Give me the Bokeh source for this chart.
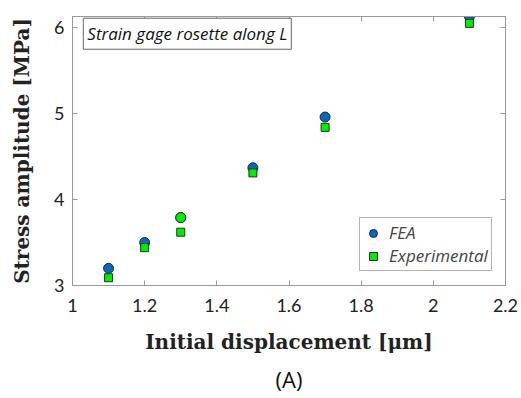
from bokeh.plotting import figure
from bokeh.models import LinearAxis, Label, Legend, LegendItem, Range1d, FixedTicker, Title
from bokeh.embed import file_html
from bokeh.resources import INLINE

disp = [1.1, 1.2, 1.3, 1.5, 1.7, 2.1]
fea = [3.20, 3.50, 3.79, 4.37, 4.96, 6.13]
exp_vals = [3.09, 3.44, 3.62, 4.31, 4.84, 6.05]
# extra experimental circle drawn at 1.3 (appears green over FEA)
extra_x = [1.3]
extra_y = [3.79]
x_ticks = [1, 1.2, 1.4, 1.6, 1.8, 2, 2.2]
y_ticks = [3, 4, 5, 6]

p = figure(width=521, height=398, output_backend="svg", toolbar_location=None,
           x_range=Range1d(1, 2.2), y_range=Range1d(3, 6.13),
           min_border_left=72, min_border_right=16, min_border_top=16, min_border_bottom=60)
p.grid.visible = False
p.outline_line_color = "#999999"
p.background_fill_color = "white"
p.border_fill_color = "white"

TICK_FONT = "Lato"
for ax in (p.xaxis[0], p.yaxis[0]):
    ax.axis_line_color = "#999999"
    ax.major_tick_line_color = "#999999"
    ax.major_tick_in = 5
    ax.major_tick_out = 0
    ax.minor_tick_line_color = None
    ax.major_label_text_font = TICK_FONT
    ax.major_label_text_font_size = "18px"
    ax.major_label_text_color = "#222222"
    ax.axis_label_text_font = "DejaVu Serif"
    ax.axis_label_text_font_style = "bold"
    ax.axis_label_text_font_size = "20px"
    ax.axis_label_text_color = "#222222"

p.xaxis[0].ticker = FixedTicker(ticks=x_ticks)
p.yaxis[0].ticker = FixedTicker(ticks=y_ticks)
p.xaxis[0].major_label_overrides = {1: "1", 2: "2"}
p.xaxis[0].axis_label = "Initial displacement [μm]"
p.xaxis[0].axis_label_standoff = 15
p.yaxis[0].axis_label = "Stress amplitude [MPa]"
p.yaxis[0].axis_label_standoff = 17
p.xaxis[0].major_label_standoff = 13
p.yaxis[0].major_label_standoff = 8

for loc, ticks in (("right", y_ticks), ("above", x_ticks)):
    ax = LinearAxis(ticker=FixedTicker(ticks=ticks))
    ax.axis_line_color = "#999999"
    ax.major_tick_line_color = "#999999"
    ax.major_tick_in = 5
    ax.major_tick_out = 0
    ax.minor_tick_line_color = None
    ax.major_label_text_color = None
    ax.major_label_overrides = {t: "" for t in ticks}
    ax.major_label_standoff = 0
    p.add_layout(ax, loc)

r1 = p.scatter(disp, fea, marker="circle", size=10, fill_color="#0b67bd",
               line_color="#1a2a3a", line_width=1)
r2 = p.scatter(disp, exp_vals, marker="square", size=8, fill_color="#00ee00",
               line_color="#1a3a1a", line_width=1)
p.scatter(extra_x, extra_y, marker="circle", size=10, fill_color="#00ee00",
          line_color="#1a3a1a", line_width=1)

legend = Legend(items=[LegendItem(label="FEA", renderers=[r1]),
                       LegendItem(label="Experimental", renderers=[r2])],
                location=(287, 14))
legend.label_text_font = "Open Sans"
legend.label_text_font_style = "italic"
legend.label_text_font_size = "17px"
legend.border_line_color = "#666666"
legend.margin = 0
legend.padding = 3
legend.spacing = 0
legend.glyph_width = 20
legend.glyph_height = 20
legend.label_standoff = 6
p.add_layout(legend)

note = Label(x=1.03, y=6.11, text="Strain gage rosette along L", anchor="top_left",
             text_font="Open Sans", text_font_style="italic", text_font_size="17px",
             text_color="#111111", border_line_color="#666666",
             background_fill_color="white", padding=4)
p.add_layout(note)

t = Title(text="(A)", align="center", text_font="Open Sans",
          text_font_size="22px", text_font_style="normal", text_color="#111111")
p.add_layout(t, "below")

open("out.html", "w").write(file_html(p, INLINE))
